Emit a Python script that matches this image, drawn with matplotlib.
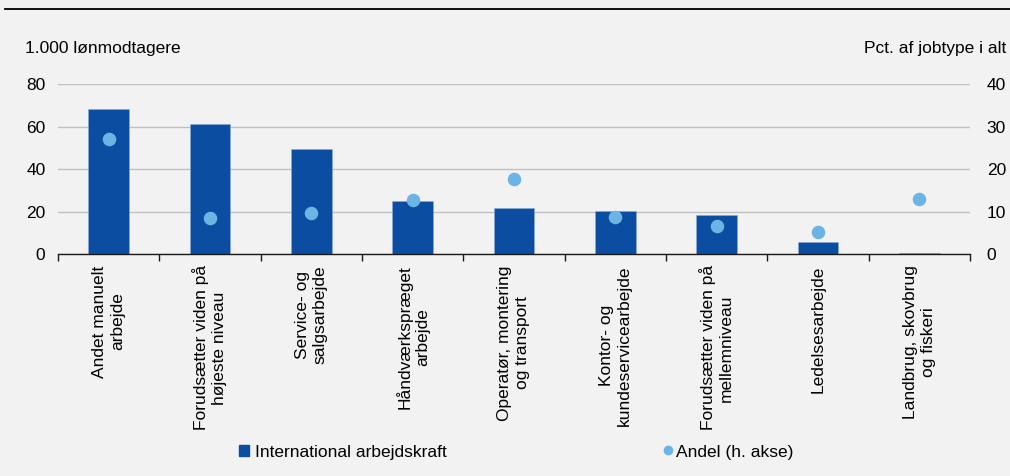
import matplotlib
matplotlib.use("Agg")
import matplotlib.pyplot as plt
from matplotlib.lines import Line2D
from matplotlib.patches import Patch
import numpy as np

categories = [
    "Andet manuelt\narbejde",
    "Forudsætter viden på\nhøjeste niveau",
    "Service- og\nsalgsarbejde",
    "Håndværkspræget\narbejde",
    "Operatør, montering\nog transport",
    "Kontor- og\nkundeservicearbejde",
    "Forudsætter viden på\nmellemniveau",
    "Ledelsesarbejde",
    "Landbrug, skovbrug\nog fiskeri",
]
international = [68.4, 61.2, 49.6, 24.9, 21.9, 20.5, 18.3, 5.9, 0.8]
andel = [27.1, 8.5, 9.8, 12.8, 17.6, 8.7, 6.6, 5.2, 13.1]
left_ticks = [0, 20, 40, 60, 80]
right_ticks = [0, 10, 20, 30, 40]

bar_color = "#0b4da1"
dot_color = "#6cb4e4"
bg = "#f2f2f2"
grid_color = "#c0c0c0"
FS = 12.5

plt.rcParams["font.family"] = ["Liberation Sans", "DejaVu Sans"]
plt.rcParams["font.size"] = FS

fig = plt.figure(figsize=(10.10, 4.76), dpi=100, facecolor=bg)
ax = fig.add_axes([58/1010, 1-254.3/476, (970-58)/1010, (254.3-84)/476])
ax.set_facecolor(bg)
x = np.arange(len(categories))
ax.bar(x, international, width=0.4, color=bar_color, edgecolor="#8fa9d6", linewidth=0.4, zorder=2)
ax.set_xlim(-0.5, len(categories)-0.5)
ax.set_ylim(0, 80)
ax.set_yticks(left_ticks)
ax.yaxis.grid(True, color=grid_color, linewidth=1.0, zorder=0)
ax.set_axisbelow(True)
for s in ["top", "left", "right"]:
    ax.spines[s].set_visible(False)
ax.spines["bottom"].set_color("#1a1a1a")
ax.spines["bottom"].set_linewidth(1.0)
ax.tick_params(axis="y", length=0, pad=9, labelsize=FS)
ax.set_xticks(np.arange(-0.5, len(categories), 1.0))
ax.set_xticklabels([])
ax.tick_params(axis="x", direction="out", length=5, width=1, color="#1a1a1a")
for i, c in enumerate(categories):
    ax.text(i, -5.2, c, rotation=90, ha="center", va="top", multialignment="center",
            fontsize=FS, linespacing=1.25)

ax2 = ax.twinx()
ax2.set_ylim(0, 40)
ax2.set_yticks(right_ticks)
ax2.scatter(x, andel, s=95, color=dot_color, zorder=3, linewidths=0)
for s in ["top", "left", "right", "bottom"]:
    ax2.spines[s].set_visible(False)
ax2.tick_params(axis="y", length=0, pad=12, labelsize=FS)

fig.text(25/1010, 1-48/476, "1.000 lønmodtagere", ha="left", va="center", fontsize=FS)
fig.text(1006/1010, 1-48/476, "Pct. af jobtype i alt", ha="right", va="center", fontsize=FS)

fig.add_artist(Line2D([5/1010, 1.0], [1-9/476, 1-9/476], color="black", linewidth=1.3))

h1 = Patch(facecolor=bar_color, edgecolor=bar_color)
fig.legend([h1], ["International arbejdskraft"], loc="center left",
           bbox_to_anchor=(239/1010, 1-452/476), frameon=False,
           handlelength=0.55, handleheight=0.55, handletextpad=0.35, fontsize=FS,
           borderaxespad=0, borderpad=0)
h2 = Line2D([], [], marker="o", linestyle="none", markersize=7, color=dot_color, markeredgewidth=0)
fig.legend([h2], ["Andel (h. akse)"], loc="center left",
           bbox_to_anchor=(662/1010, 1-452/476), frameon=False,
           handlelength=0.7, handletextpad=0.1, fontsize=FS,
           borderaxespad=0, borderpad=0)

fig.savefig("out.png", dpi=100, facecolor=bg)
